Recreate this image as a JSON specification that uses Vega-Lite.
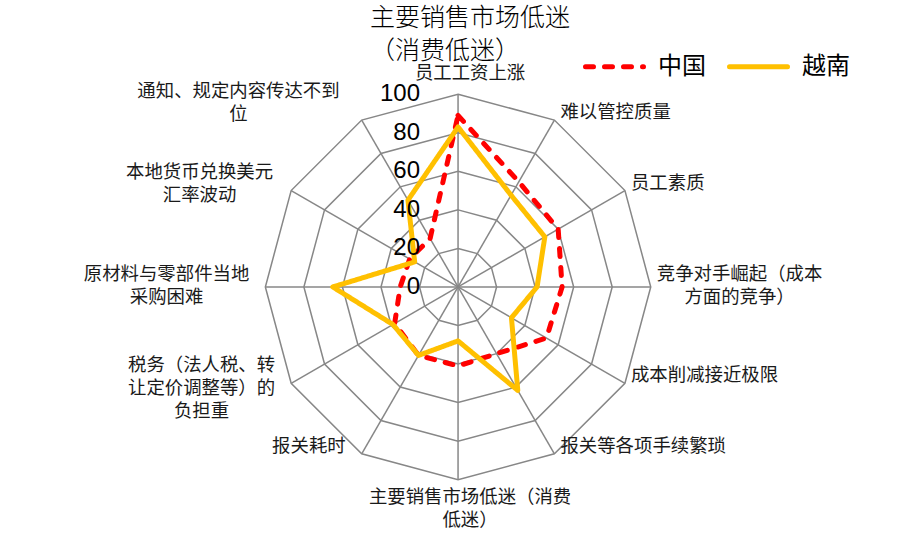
{
  "$schema": "https://vega.github.io/schema/vega-lite/v6.json",
  "width": 903,
  "height": 534,
  "padding": 0,
  "autosize": {"type": "none"},
  "background": "white",
  "config": {"view": {"stroke": null}},
  "title": {
    "text": ["主要销售市场低迷", "（消费低迷）"],
    "anchor": "start",
    "frame": "group",
    "orient": "top",
    "offset": 0,
    "dx": 370,
    "dy": 64,
    "baseline": "top",
    "fontSize": 25,
    "lineHeight": 33,
    "font": "Noto Sans CJK SC",
    "fontWeight": 300,
    "color": "#000000"
  },
  "datasets": {
    "axes": [
      {"k": 0, "label": "员工工资上涨", "中国": 89, "越南": 83},
      {"k": 1, "label": "难以管控质量", "中国": 63, "越南": 55},
      {"k": 2, "label": "员工素质", "中国": 60, "越南": 52},
      {"k": 3, "label": "竞争对手崛起（成本\n方面的竞争）", "中国": 54, "越南": 41},
      {"k": 4, "label": "成本削减接近极限", "中国": 53, "越南": 32},
      {"k": 5, "label": "报关等各项手续繁琐", "中国": 40, "越南": 62},
      {"k": 6, "label": "主要销售市场低迷（消费\n低迷）", "中国": 41, "越南": 28},
      {"k": 7, "label": "报关耗时", "中国": 41, "越南": 41},
      {"k": 8, "label": "税务（法人税、转\n让定价调整等）的\n负担重", "中国": 38, "越南": 39},
      {"k": 9, "label": "原材料与零部件当地\n采购困难", "中国": 30, "越南": 65},
      {"k": 10, "label": "本地货币兑换美元\n汇率波动", "中国": 29, "越南": 26},
      {"k": 11, "label": "通知、规定内容传达不到\n位", "中国": 29, "越南": 52}
    ],
    "rings": [
      {"level": 0, "k": [0, 1, 2, 3, 4, 5, 6, 7, 8, 9, 10, 11]},
      {"level": 20, "k": [0, 1, 2, 3, 4, 5, 6, 7, 8, 9, 10, 11]},
      {"level": 40, "k": [0, 1, 2, 3, 4, 5, 6, 7, 8, 9, 10, 11]},
      {"level": 60, "k": [0, 1, 2, 3, 4, 5, 6, 7, 8, 9, 10, 11]},
      {"level": 80, "k": [0, 1, 2, 3, 4, 5, 6, 7, 8, 9, 10, 11]},
      {"level": 100, "k": [0, 1, 2, 3, 4, 5, 6, 7, 8, 9, 10, 11]}
    ]
  },
  "encoding": {
    "x": {"field": "x", "type": "quantitative", "scale": {"domain": [-237.7, 230.9], "nice": false, "zero": false}, "axis": null},
    "y": {"field": "y", "type": "quantitative", "scale": {"domain": [-128.2, 148.9], "nice": false, "zero": false}, "axis": null}
  },
  "layer": [
    {
      "data": {"name": "rings"},
      "transform": [
        {"filter": "datum.level > 0"},
        {"flatten": ["k"]},
        {"calculate": "datum.k * PI / 6", "as": "a"},
        {"calculate": "datum.level * sin(datum.a)", "as": "x"},
        {"calculate": "datum.level * cos(datum.a)", "as": "y"}
      ],
      "mark": {"type": "line", "interpolate": "linear-closed", "color": "#878787", "strokeWidth": 1.5},
      "encoding": {
        "detail": {"field": "level", "type": "nominal"},
        "order": {"field": "k", "type": "quantitative"}
      }
    },
    {
      "data": {"name": "axes"},
      "transform": [
        {"calculate": "datum.k * PI / 6", "as": "a"},
        {"calculate": "100 * sin(datum.a)", "as": "x"},
        {"calculate": "100 * cos(datum.a)", "as": "y"}
      ],
      "mark": {"type": "rule", "color": "#878787", "strokeWidth": 1.5},
      "encoding": {
        "x2": {"datum": 0},
        "y2": {"datum": 0}
      }
    },
    {
      "data": {"name": "axes"},
      "transform": [
        {"fold": ["中国", "越南"], "as": ["series", "value"]},
        {"filter": "datum.series === '中国'"},
        {"calculate": "datum.k * PI / 6", "as": "a"},
        {"calculate": "datum.value * sin(datum.a)", "as": "x"},
        {"calculate": "datum.value * cos(datum.a)", "as": "y"}
      ],
      "mark": {"type": "line", "interpolate": "linear-closed", "strokeWidth": 5, "strokeCap": "round", "strokeJoin": "round"},
      "encoding": {
        "color": {"field": "series", "type": "nominal", "scale": {"domain": ["中国", "越南"], "range": ["#FF0000", "#FFC000"]},
          "legend": {"orient": "none", "legendX": 583, "legendY": 35, "direction": "horizontal", "title": null, "symbolType": "stroke", "symbolSize": 3364, "symbolStrokeWidth": 5, "labelFontSize": 24, "labelFont": "Noto Sans CJK SC", "labelColor": "#000000", "labelOffset": 12, "columnPadding": 13, "padding": 0,
            "encode": {"symbols": {"update": {"strokeCap": {"value": "round"}}}}}},
        "strokeDash": {"field": "series", "type": "nominal", "scale": {"domain": ["中国", "越南"], "range": [[8, 11], [1, 0]]},
          "legend": {"orient": "none", "legendX": 583, "legendY": 35, "direction": "horizontal", "title": null, "symbolType": "stroke", "symbolSize": 3364, "symbolStrokeWidth": 5, "labelFontSize": 24, "labelFont": "Noto Sans CJK SC", "labelColor": "#000000", "labelOffset": 12, "columnPadding": 13, "padding": 0,
            "encode": {"symbols": {"update": {"strokeCap": {"value": "round"}}}}}},
        "order": {"field": "k", "type": "quantitative"}
      }
    },
    {
      "data": {"name": "axes"},
      "transform": [
        {"fold": ["中国", "越南"], "as": ["series", "value"]},
        {"filter": "datum.series === '越南'"},
        {"calculate": "datum.k * PI / 6", "as": "a"},
        {"calculate": "datum.value * sin(datum.a)", "as": "x"},
        {"calculate": "datum.value * cos(datum.a)", "as": "y"}
      ],
      "mark": {"type": "line", "interpolate": "linear-closed", "strokeWidth": 5, "strokeCap": "round", "strokeJoin": "round"},
      "encoding": {
        "color": {"field": "series", "type": "nominal"},
        "strokeDash": {"field": "series", "type": "nominal"},
        "order": {"field": "k", "type": "quantitative"}
      }
    },
    {
      "data": {"name": "rings"},
      "transform": [
        {"calculate": "0", "as": "x"},
        {"calculate": "datum.level", "as": "y"}
      ],
      "mark": {"type": "text", "align": "right", "baseline": "middle", "dx": -38, "fontSize": 24, "font": "Liberation Sans", "color": "#000000"},
      "encoding": {
        "text": {"field": "level", "type": "quantitative"}
      }
    },
    {
      "data": {"name": "axes"},
      "transform": [
        {"calculate": "datum.k * PI / 6", "as": "a"},
        {"calculate": "sin(datum.a)", "as": "s"},
        {"calculate": "cos(datum.a)", "as": "c"},
        {"calculate": "split(datum.label, '\\n')", "as": "lines"},
        {"calculate": "length(datum.lines)", "as": "n"},
        {"calculate": "18.4 * max(length(datum.lines[0]), datum.n > 1 ? length(datum.lines[1]) : 0, datum.n > 2 ? length(datum.lines[2]) : 0)", "as": "w"},
        {"calculate": "100 * datum.s + (abs(datum.s) < 0.01 ? 12 : (datum.s > 0 ? 6 + datum.w / 2 : -(16 + 8 * max(0, datum.c) * max(0, datum.c) + datum.w / 2))) / 1.927", "as": "x"},
        {"calculate": "100 * datum.c - (abs(datum.s) < 0.01 ? (datum.c > 0 ? -21 : 17) : (-8 - (datum.n - 1) * 5 - (datum.n - 1) * max(0, datum.c) * max(0, datum.c) * 22)) / 1.927", "as": "y"}
      ],
      "mark": {"type": "text", "align": "center", "baseline": "middle", "lineBreak": "\n", "lineHeight": 23, "fontSize": 18.4, "font": "Noto Sans CJK SC", "color": "#1a1a1a"},
      "encoding": {
        "text": {"field": "label", "type": "nominal"}
      }
    }
  ]
}
